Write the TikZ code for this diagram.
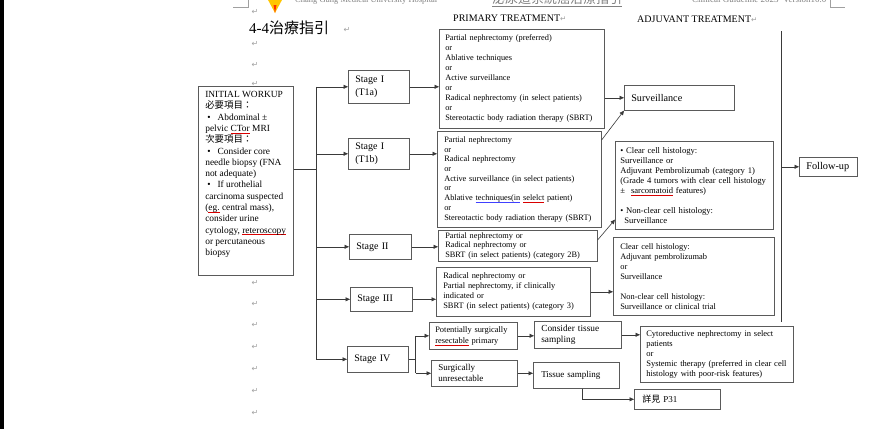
\documentclass[tikz,border=0pt]{standalone}
\usepackage{fontspec}
\setmainfont{Liberation Serif}
\newfontfamily\cjk{Noto Sans CJK TC}
\newfontfamily\symfont{DejaVu Sans}
\usetikzlibrary{arrows.meta}

\definecolor{boxline}{HTML}{5A5A5A}
\definecolor{linkline}{HTML}{3A3A3A}
\definecolor{markgray}{HTML}{A0A0A0}
\definecolor{headgray}{HTML}{808080}

% underlined words: red (spelling) and blue (grammar)
\newsavebox\markedword
\newcommand\spellmark[1]{\leavevmode\sbox\markedword{#1}%
  \rlap{\textcolor{red!85!black}{\rule[-1.9pt]{\wd\markedword}{0.55pt}}}\usebox\markedword}
\newcommand\grammark[1]{\leavevmode\sbox\markedword{#1}%
  \rlap{\textcolor{blue!75}{\rule[-1.9pt]{\wd\markedword}{0.8pt}}}\usebox\markedword}
% paragraph mark
\newcommand\pmark{{\symfont\fontsize{7.5}{7.5}\selectfont\textcolor{markgray}{↵}}}

\begin{document}
\begin{tikzpicture}[x=1pt,y=-1pt,
  box/.style={draw=boxline, line width=0.6pt, fill=white, anchor=north west,
              align=left, inner ysep=1pt},
  stagebox/.style={box, font=\fontsize{10}{12.5}\selectfont, inner xsep=7pt},
  link/.style={draw=linkline, line width=0.6pt},
  arr/.style={link, -{Triangle[length=4.5pt,width=4pt]}},
  pm/.style={inner sep=0pt, anchor=center, font=\symfont\fontsize{8}{8}\selectfont, text=markgray}]

\useasboundingbox (0,0) rectangle (870,429);
\fill[white] (0,0) rectangle (870,429);
\fill[black] (0,0) rectangle (4,429);

% ---------- page header (cut by the top edge) ----------
\begin{scope}
  \clip (0,0) rectangle (870,429);
  \draw[markgray, line width=0.5pt] (233,7) -- (248,7) -- (248,0);
  \draw[markgray, line width=0.5pt] (830,0) -- (830,7) -- (845,7);
  \fill[orange!45!yellow] (267,-2) -- (283,-2) -- (275,13) -- cycle;
  \fill[red!65!orange] (273.5,5) -- (276.5,5) -- (275,13) -- cycle;
  \node[anchor=base west, inner sep=0pt, text=headgray, font=\fontsize{8.5}{8.5}\selectfont] (hosp) at (295,2.5) {Chang Gung Medical University Hospital};
  \node[anchor=base west, inner sep=0pt, text=headgray, font=\cjk\fontsize{13}{13}\selectfont] (guide) at (492,3.5) {泌尿道系統癌治療指引};
  \draw[headgray, line width=0.6pt] ([yshift=-2.5pt]guide.base west) -- ([yshift=-2.5pt]guide.base east);
  \node[anchor=base west, inner sep=0pt, text=headgray, font=\fontsize{9}{9}\selectfont] (version) at (692,2.5) {Clinical Guideline 2023\ \ Version10.0};
\end{scope}

% ---------- titles ----------
\node[anchor=base west, inner sep=0pt, font=\fontsize{15}{15}\selectfont] (title) at (249,33) {4-4{\cjk 治療指引}};
\node[pm] (titlemark) at (347,30) {↵};
\node[anchor=base west, inner sep=0pt, font=\fontsize{10}{10}\selectfont] (primhead) at (453,21) {PRIMARY TREATMENT\pmark};
\node[anchor=base west, inner sep=0pt, font=\fontsize{10}{10}\selectfont] (adjhead) at (637,22) {ADJUVANT TREATMENT\pmark};

% ---------- empty paragraph marks in the left margin ----------
\foreach \yy [count=\i] in {12,44,65,84,283,304,325,347,369,391,413}
  \node[pm] (mark\i) at (255,\yy) {↵};

% ---------- initial workup ----------
\node[box, inner xsep=4.5pt, inner ysep=5pt, font=\fontsize{9.4}{11.3}\selectfont] (workup) at (198,86)
{\parbox[t][179pt][t]{86pt}{\raggedright\leftskip=2.5pt
INITIAL WORKUP\\
{\cjk 必要項目：}\\
\hspace*{2pt}•\hspace{7pt}Abdominal ±\\
pelvic \spellmark{CTor} MRI\\
{\cjk 次要項目：}\\
\hspace*{2pt}•\hspace{7pt}Consider core\\
needle biopsy (FNA\\
not adequate)\\
\hspace*{2pt}•\hspace{7pt}If urothelial\\
carcinoma suspected\\
(\spellmark{eg.} central mass),\\
consider urine\\
cytology, \spellmark{reteroscopy}\\
or percutaneous\\
biopsy}};

% ---------- stages ----------
\node[stagebox, minimum width=61pt, minimum height=33pt, text width=47pt] (s1a) at (348,70) {Stage I\\(T1a)};
\node[stagebox, minimum width=61pt, minimum height=31pt, text width=47pt] (s1b) at (348,138) {Stage I\\(T1b)};
\node[stagebox, minimum width=62pt, minimum height=25pt, text width=48pt] (s2) at (349,234) {Stage II};
\node[stagebox, minimum width=62pt, minimum height=24pt, text width=48pt] (s3) at (350,287) {Stage III};
\node[stagebox, minimum width=61pt, minimum height=26pt, text width=47pt] (s4) at (347,346) {Stage IV};

% ---------- primary treatment ----------
\node[box, inner xsep=6pt, minimum width=165pt, minimum height=99pt, text width=153pt, font=\fontsize{8.3}{10}\selectfont] (p1) at (439,29)
{Partial nephrectomy (preferred)\\ or\\ Ablative techniques\\ or\\ Active surveillance\\ or\\ Radical nephrectomy (in select patients)\\ or\\ Stereotactic body radiation therapy (SBRT)};
\node[box, inner xsep=7pt, minimum width=164pt, minimum height=96pt, text width=150pt, font=\fontsize{8.3}{9.7}\selectfont] (p2) at (437,131)
{Partial nephrectomy\\ or\\ Radical nephrectomy\\ or\\ Active surveillance (in select patients)\\ or\\ Ablative \grammark{techniques(in} \spellmark{selelct} patient)\\ or\\ Stereotactic body radiation therapy (SBRT)};
\node[box, inner xsep=7pt, minimum width=159pt, minimum height=31pt, text width=145pt, font=\fontsize{8.3}{9.5}\selectfont] (p3) at (438,230)
{Partial nephrectomy or\\ Radical nephrectomy or\\ SBRT (in select patients) (category 2B)};
\node[box, inner xsep=7pt, minimum width=154pt, minimum height=49pt, text width=140pt, font=\fontsize{8.4}{10}\selectfont] (p4) at (436,267)
{Radical nephrectomy or\\ Partial nephrectomy, if clinically\\ indicated or\\ SBRT (in select patients) (category 3)};

% ---------- stage IV pathway ----------
\node[box, inner xsep=6pt, minimum width=88pt, minimum height=27pt, text width=76pt, font=\fontsize{8.4}{11}\selectfont] (r4a) at (429,322)
{Potentially surgically\\ \spellmark{resectable} primary};
\node[box, inner xsep=7pt, minimum width=86pt, minimum height=26pt, text width=72pt, font=\fontsize{9}{11}\selectfont] (r4b) at (431,360)
{Surgically\\ unresectable};
\node[box, inner xsep=7pt, minimum width=87pt, minimum height=27pt, text width=73pt, font=\fontsize{9.3}{11}\selectfont] (c4a) at (534,321)
{Consider tissue\\ sampling};
\node[box, inner xsep=8pt, minimum width=86pt, minimum height=26pt, text width=70pt, font=\fontsize{9}{11}\selectfont] (c4b) at (533,362)
{Tissue sampling};
\node[box, inner xsep=6pt, minimum width=153pt, minimum height=56pt, text width=141pt, font=\fontsize{8.5}{10}\selectfont] (cyto) at (640,326)
{Cytoreductive nephrectomy in select\\ patients\\ or\\ Systemic therapy (preferred in clear cell\\ histology with poor-risk features)};
\node[box, inner xsep=8pt, minimum width=86pt, minimum height=20pt, text width=70pt, font=\fontsize{9}{11}\selectfont] (p31) at (634,389)
{{\cjk 詳見} P31};

% ---------- adjuvant treatment ----------
\node[box, inner xsep=7pt, minimum width=110pt, minimum height=25pt, text width=96pt, font=\fontsize{10.2}{12}\selectfont] (surv) at (624,85)
{Surveillance};
\node[box, inner xsep=5pt, minimum width=158pt, minimum height=88pt, text width=148pt, font=\fontsize{8.6}{10}\selectfont] (a1) at (615,141)
{• Clear cell histology:\\ Surveillance or\\ Adjuvant Pembrolizumab (category 1)\\ (Grade 4 tumors with clear cell histology\\ ±\hspace{6pt}\spellmark{sarcomatoid} features)\\ \strut\\ • Non-clear cell histology:\\ \hspace*{4pt}Surveillance};
\node[box, inner xsep=7pt, minimum width=161pt, minimum height=78pt, text width=147pt, font=\fontsize{8.4}{10}\selectfont] (a2) at (613,237)
{Clear cell histology:\\ Adjuvant pembrolizumab\\ or\\ Surveillance\\ \strut\\ Non-clear cell histology:\\ Surveillance or clinical trial};
\node[box, inner xsep=7pt, minimum width=58pt, minimum height=19pt, text width=44pt, font=\fontsize{10.3}{12}\selectfont] (fu) at (799,157)
{Follow-up};

% ---------- connectors: workup to stages ----------
\coordinate (join) at (316,169);
\coordinate (trunktop) at (join |- s1a.west);
\draw[link] (workup.east |- join) -- (join);
\draw[link] (trunktop) -- (trunktop |- s4.west);
\draw[arr] (trunktop) -- (s1a.west);
\draw[arr] (trunktop |- s1b.west) -- (s1b.west);
\draw[arr] (trunktop |- s2.west) -- (s2.west);
\draw[arr] (trunktop |- s3.west) -- (s3.west);
\draw[arr] (trunktop |- s4.west) -- (s4.west);

% ---------- stages to primary treatment ----------
\draw[arr] (s1a.east) -- (s1a.east -| p1.west);
\draw[arr] (s1b.east) -- (s1b.east -| p2.west);
\draw[arr] (s2.east) -- (s2.east -| p3.west);
\draw[arr] (s3.east) -- (s3.east -| p4.west);

% ---------- stage IV branches ----------
\draw[link] (s4.east) -- ++(7,0) coordinate (fork);
\draw[link] (fork |- r4a.west) -- (fork |- r4b.west);
\draw[arr] (fork |- r4a.west) -- (r4a.west);
\draw[arr] (fork |- r4b.west) -- (r4b.west);
\draw[arr] (r4a.east) -- (r4a.east -| c4a.west);
\draw[arr] (r4b.east) -- (r4b.east -| c4b.west);
\draw[arr] (c4a.east) -- (c4a.east -| cyto.west);
\draw[arr] ([xshift=6pt]c4b.south) |- (p31.west);

% ---------- primary to adjuvant ----------
\draw[arr] (p1.east |- surv.west) -- (surv.west);
\draw[arr] ([yshift=-9pt]p2.north east) -- (surv.south west);
\draw[arr] ([yshift=-10pt]p3.north east) -- ([yshift=10pt]a1.south west);
\draw[arr] (p4.east) -- (p4.east -| a2.west);

% ---------- follow-up bracket ----------
\coordinate (futop) at (781,31);
\coordinate (fubot) at (781,322);
\draw[link] (futop) -- (fubot);
\draw[arr] (futop |- fu.west) -- (fu.west);

\end{tikzpicture}
\end{document}
